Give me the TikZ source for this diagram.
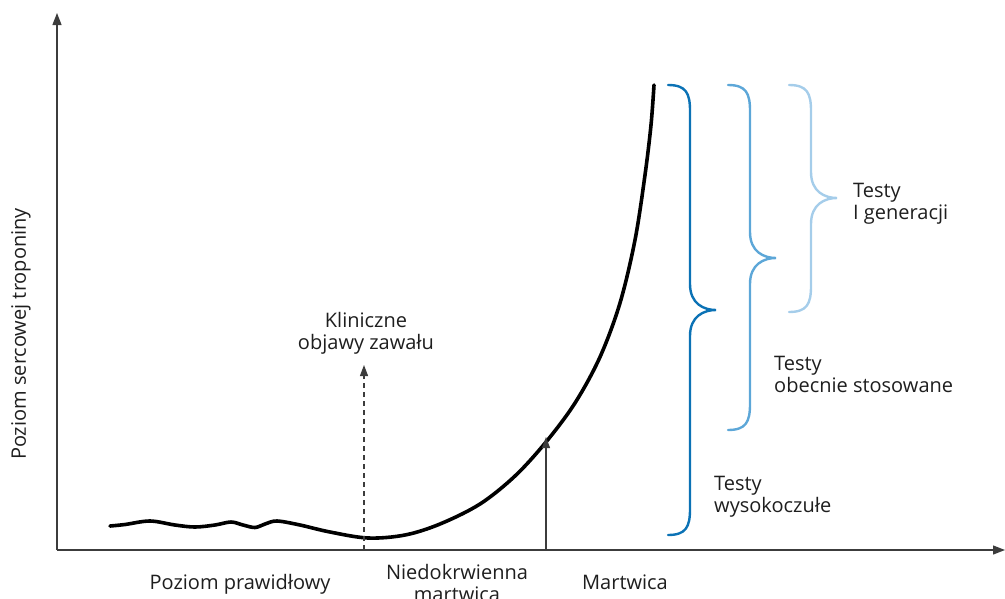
\documentclass[tikz,border=0pt]{standalone}
\usepackage{fontspec}
\setmainfont{Open Sans}
\usetikzlibrary{arrows.meta}
\definecolor{testdark}{HTML}{0B72B5}
\definecolor{testmid}{HTML}{5DA7D8}
\definecolor{testlight}{HTML}{A5CDEA}
\definecolor{axisgray}{HTML}{3C3C3C}
\definecolor{txtgray}{HTML}{1E1E1E}

\begin{document}
\begin{tikzpicture}[x=1pt,y=-1pt,
        lbl/.style={font=\fontsize{20}{21.5}\selectfont, text=txtgray, inner sep=0pt},
        axis/.style={draw=axisgray, line width=1.3pt, -{Triangle[length=12pt,width=9pt]}},
        brc/.style={line width=2.4pt, line cap=round}]
    \useasboundingbox (0,0) rectangle (1005,598);
        % axes
        \coordinate (orig) at (57,550);
        \coordinate (ytop) at (57,13);
        \coordinate (xend) at (1005,550);
        \draw[axis] (orig) -- (ytop);
        \draw[axis] (orig) -- (xend);
        \node[lbl, rotate=90] (ylab) at (21,334) {Poziom sercowej troponiny};
        % troponin curve
        \draw[line width=3.6pt, line cap=round, line join=round]
            plot[smooth, tension=0.55] coordinates {(110,526) (125,524.5) (150,521) (175,525) (195,527)
            (215,525) (231,522) (243,525) (255,527.5) (265,524) (277,521) (300,525) (330,532)
            (368,538) (405,535) (440,524) (480,504) (515,476) (546,442) (575,403) (600,357)
            (620,303) (635,240) (645,175) (651,125) (654,85)};
        % arrows
        \coordinate (dashbot) at (364,550);
        \coordinate (dashtop) at (364,365);
        \draw[axisgray, line width=1.2pt, dash pattern=on 5pt off 4pt,
            -{Triangle[length=11pt,width=8pt]}] (dashbot) -- (dashtop);
        \coordinate (nekbot) at (546,550);
        \coordinate (nektop) at (546,437);
        \draw[axisgray, line width=1.2pt, -{Triangle[length=11pt,width=8pt]}] (nekbot) -- (nektop);
        \node[lbl, align=center, anchor=base] (klin) at (366,349) {Kliniczne\\objawy zawału};
        % braces
        \foreach \xe/\yt/\ym/\yb/\col in {668/85/310/535/testdark,728/85/258/430/testmid,789/85/198/312/testlight}{
            \draw[brc, draw=\col] (\xe,\yt) .. controls (\xe+18,\yt) and (\xe+22,\yt+8) .. (\xe+22,\yt+26)
                -- (\xe+22,\ym-26) .. controls (\xe+22,\ym-6) and (\xe+36,\ym) .. (\xe+48,\ym)
                .. controls (\xe+36,\ym) and (\xe+22,\ym+6) .. (\xe+22,\ym+26)
                -- (\xe+22,\yb-26) .. controls (\xe+22,\yb-8) and (\xe+18,\yb) .. (\xe,\yb);
        }
        \node[lbl, anchor=base west, align=left] (gen1) at (853,219) {Testy\\I generacji};
        \node[lbl, anchor=base west, align=left] (obecne) at (774,392) {Testy\\obecnie stosowane};
        \node[lbl, anchor=base west, align=left] (wysok) at (714,512) {Testy\\wysokoczułe};
        % phases
        \node[lbl, anchor=base] (prawid) at (240,589) {Poziom prawidłowy};
        \node[lbl, anchor=base, align=center] (niedokr) at (457,601) {Niedokrwienna\\martwica};
        \node[lbl, anchor=base] (martw) at (625,589) {Martwica};
    \end{tikzpicture}
\end{document}
